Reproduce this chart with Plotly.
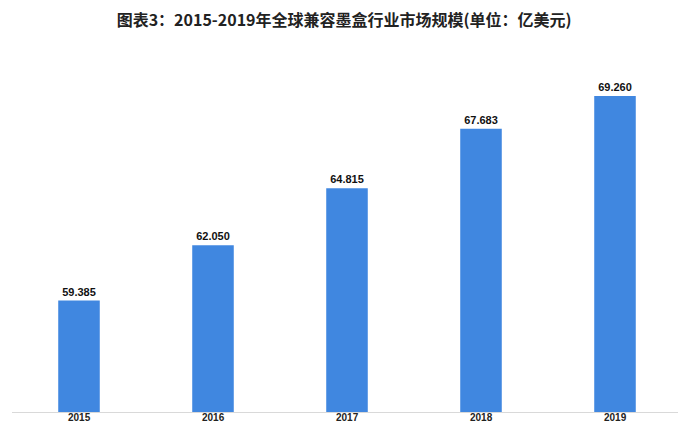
import plotly.graph_objects as go

years = ["2015", "2016", "2017", "2018", "2019"]
values = [59.385, 62.050, 64.815, 67.683, 69.260]
labels = ["59.385", "62.050", "64.815", "67.683", "69.260"]

title_text = "图表3：2015-2019年全球兼容墨盒行业市场规模(单位：亿美元)"

fig = go.Figure()
fig.add_trace(go.Bar(
    x=years, y=values, text=labels, textposition="outside",
    texttemplate="<b>%{text}</b>",
    textfont=dict(family="Liberation Sans, Arial", size=11, color="#111111"),
    marker=dict(color="#4087e0", line=dict(width=0)),
    cliponaxis=False,
))
# category labels placed just under the axis (category index positions)
for i, yr in enumerate(years):
    fig.add_annotation(x=i, xref="x", y=0, yref="paper", yanchor="top",
                       yshift=1, borderpad=0, showarrow=False, text="<b>" + yr + "</b>",
                       font=dict(family="Liberation Sans, Arial", size=10, color="#222222"))
fig.update_layout(
    width=686, height=425,
    margin=dict(l=4, r=12, t=44, b=21, autoexpand=False),
    paper_bgcolor="white", plot_bgcolor="white",
    bargap=0.69,
    showlegend=False,
    title=dict(text="<b>" + title_text + "</b>", x=0.49, xanchor="center",
               y=0.97, yanchor="middle",
               font=dict(family="Noto Sans CJK SC", size=16, color="#222222")),
    xaxis=dict(type="category", showline=True, linecolor="#d9d9d9", linewidth=1,
               ticks="", showticklabels=False, showgrid=False, automargin=False),
    yaxis=dict(range=[54, 54 + 360 / 20.7], visible=False, showgrid=False),
)
fig.write_html("out.html")
